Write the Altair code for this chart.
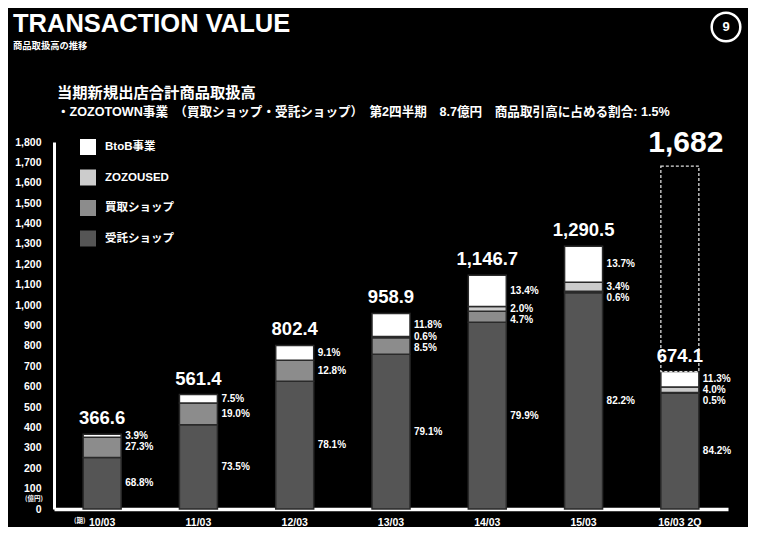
import altair as alt
import pandas as pd

# ---------------- data ----------------
periods = ["10/03", "11/03", "12/03", "13/03", "14/03", "15/03", "16/03 2Q"]
totals = [366.6, 561.4, 802.4, 958.9, 1146.7, 1290.5, 674.1]
pct_consign = [68.8, 73.5, 78.1, 79.1, 79.9, 82.2, 84.2]   # 受託ショップ
pct_buy = [27.3, 19.0, 12.8, 8.5, 4.7, 0.6, 0.5]           # 買取ショップ
pct_used = [0.0, 0.0, 0.0, 0.6, 2.0, 3.4, 4.0]             # ZOZOUSED
pct_btob = [3.9, 7.5, 9.1, 11.8, 13.4, 13.7, 11.3]         # BtoB事業
forecast_period = "16/03 2Q"
forecast_total = 1682
y_ticks = list(range(0, 1801, 100))

series = ["BtoB事業", "ZOZOUSED", "買取ショップ", "受託ショップ"]
colors = ["#ffffff", "#cccccc", "#8c8c8c", "#555555"]

# ---------------- layout constants ----------------
W, H = 674, 367
YMAX = 1800
PX = H / YMAX
FONT = "Liberation Sans, Noto Sans CJK JP, sans-serif"
JFONT = "Noto Sans CJK JP, Liberation Sans, sans-serif"

# ---------------- build tables ----------------
seg_rows, lab_rows, tot_rows = [], [], []
for i, p in enumerate(periods):
    t = totals[i]
    stack = [("受託ショップ", pct_consign[i]), ("買取ショップ", pct_buy[i]),
             ("ZOZOUSED", pct_used[i]), ("BtoB事業", pct_btob[i])]
    base = 0.0
    mids = {}
    for name, pc in stack:
        v = t * pc / 100.0
        if pc > 0:
            seg_rows.append({"period": p, "series": name, "lo": base, "hi": base + v})
            mids[name] = (base + base + v) / 2
        base += v
    # labels of the upper segments, top-down, kept apart
    gap = 11 / PX
    prev = None
    for name, pc in [("BtoB事業", pct_btob[i]), ("ZOZOUSED", pct_used[i]), ("買取ショップ", pct_buy[i])]:
        if pc <= 0:
            continue
        y = mids[name]
        if prev is not None:
            y = min(y, prev - gap)
        prev = y
        lab_rows.append({"period": p, "ly": y, "txt": f"{pc:.1f}%"})
    lab_rows.append({"period": p, "ly": mids["受託ショップ"], "txt": f"{pct_consign[i]:.1f}%"})
    tot_rows.append({"period": p, "total": t, "txt": f"{t:,.1f}"})

seg = pd.DataFrame(seg_rows)
labs = pd.DataFrame(lab_rows)
tots = pd.DataFrame(tot_rows)
fc = pd.DataFrame({"period": [forecast_period], "lo": [totals[-1]], "hi": [forecast_total],
                   "txt": [f"{forecast_total:,d}"]})

xaxis = alt.Axis(labelAngle=0, ticks=False, labelPadding=8, labelColor="white",
                 labelFont=FONT, labelFontSize=10.5, labelFontWeight="bold",
                 domainColor="white", domainWidth=3.5, grid=False)
yaxis = alt.Axis(values=y_ticks, format=",d", ticks=False, grid=False,
                 labelPadding=13, labelColor="white", labelFont=FONT,
                 labelFontSize=10.5, labelFontWeight="bold",
                 domainColor="white", domainWidth=3)
xscale = alt.Scale(paddingInner=0, paddingOuter=0)
yscale = alt.Scale(domain=[0, YMAX], nice=False, zero=True)


def X():
    return alt.X("period:N", sort=periods, title=None, scale=xscale, axis=xaxis)


def Y(field):
    return alt.Y(field, scale=yscale, title=None, axis=yaxis)


bars = alt.Chart(seg).mark_bar(size=38, stroke="#2a2a2a", strokeWidth=1.5).encode(
    x=X(),
    y=Y("hi:Q"),
    y2="lo:Q",
    color=alt.Color("series:N", scale=alt.Scale(domain=series, range=colors),
                    legend=alt.Legend(orient="none", legendX=26, legendY=-3, title=None,
                                      symbolType="square", symbolSize=256,
                                      symbolStrokeWidth=0, symbolOpacity=1,
                                      labelColor="white", labelFont=FONT,
                                      labelFontSize=11.5, labelFontWeight="bold",
                                      labelOffset=9, rowPadding=14.5, padding=0)),
)

box = alt.Chart(fc).mark_bar(size=38, fill="black", fillOpacity=0, stroke="#dddddd",
                             strokeDash=[3, 2], strokeWidth=1.3).encode(
    x=X(), y=Y("hi:Q"), y2="lo:Q")

pct_text = alt.Chart(labs).mark_text(align="left", baseline="middle", dx=23, color="white",
                                     font=FONT, fontSize=10, fontWeight="bold").encode(
    x=X(), y=Y("ly:Q"), text="txt:N")

tot_text = alt.Chart(tots).mark_text(align="center", baseline="alphabetic", dy=-10,
                                     color="white", font=FONT, fontSize=18.5,
                                     fontWeight="bold").encode(
    x=X(), y=Y("total:Q"), text="txt:N")

fc_text = alt.Chart(fc).mark_text(align="center", baseline="alphabetic", dy=-14, dx=6,
                                  color="white", font=FONT, fontSize=30,
                                  fontWeight="bold").encode(
    x=X(), y=Y("hi:Q"), text="txt:N")


def note(txt, x, y, size, align="left", font=FONT, baseline="middle"):
    return alt.Chart(pd.DataFrame({"t": [txt]})).mark_text(
        align=align, baseline=baseline, color="white", font=font, fontSize=size,
        fontWeight="bold").encode(x=alt.value(x), y=alt.value(y), text="t:N")


title = note("TRANSACTION VALUE", -41, -110.5, 25.5, baseline="alphabetic")
subtitle = note("商品取扱高の推移", -41, -96, 9.3, font=JFONT)
heading = note("当期新規出店合計商品取扱高", 3, -49, 15.3, font=JFONT)
line2 = note("・ZOZOTOWN事業　（買取ショップ・受託ショップ）　第2四半期　8.7億円　商品取引高に占める割合: 1.5%",
             3, -30, 12.6, font=FONT)
unit = note("(億円)", -11, 357, 6.5, align="right", font=JFONT)
period_note = note("(期)", 20, 379, 6.5, font=JFONT)
page_num = note("9", 672, -115, 13, align="center")
circle = alt.Chart(pd.DataFrame({"t": [1]})).mark_point(
    shape="circle", size=820, filled=False, color="white", strokeWidth=2.5, opacity=1
).encode(x=alt.value(672), y=alt.value(-115))

chart = alt.layer(bars, box, pct_text, tot_text, fc_text, title, subtitle, heading, line2,
                  unit, period_note, circle, page_num).properties(
    width=W, height=H,
    padding={"left": 46, "top": 134, "right": 20, "bottom": 18},
    autosize=alt.AutoSizeParams(type="none"),
    background="black",
).configure_view(stroke=None)

chart.save("out.html", embed_options={"renderer": "svg", "actions": False})
